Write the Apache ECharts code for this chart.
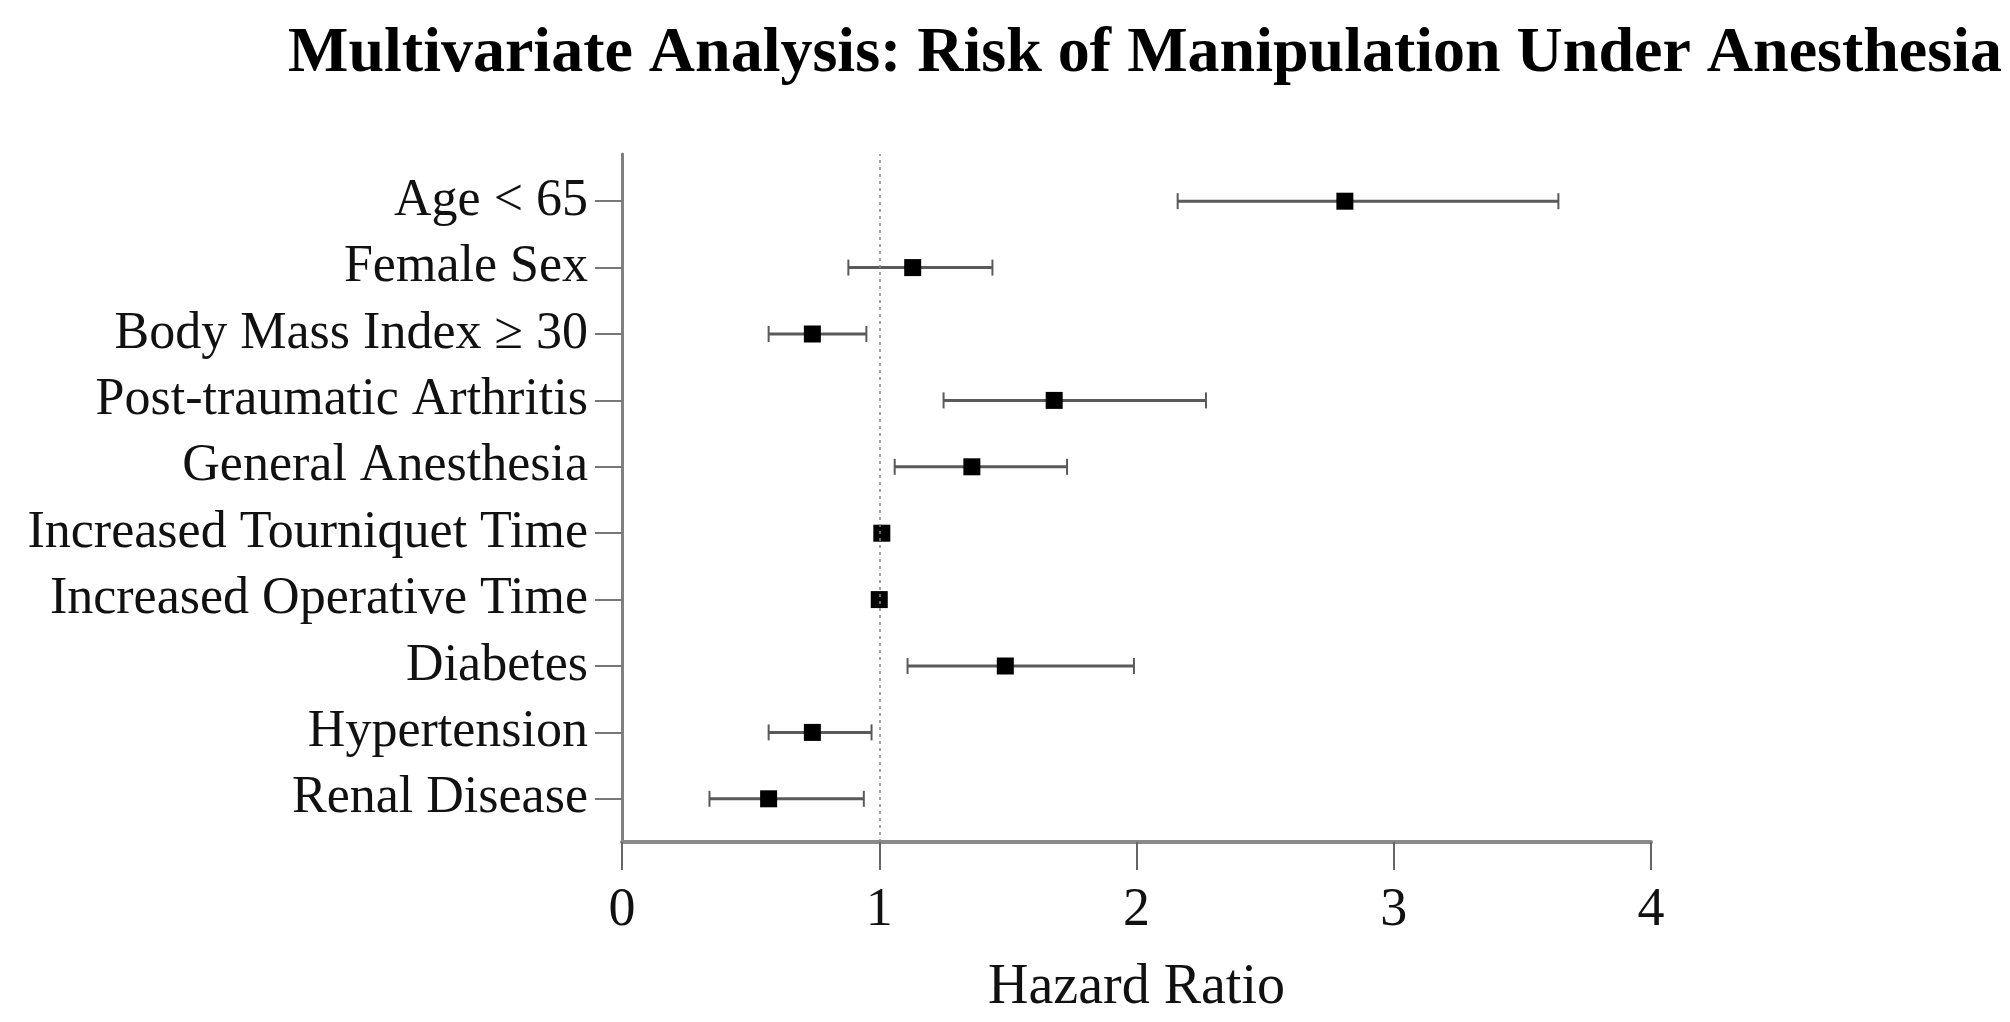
<!DOCTYPE html>
<html>
<head>
<meta charset="utf-8">
<script src="https://cdn.jsdelivr.net/npm/echarts@6/dist/echarts.min.js"></script>
<style>
html,body{margin:0;padding:0;background:#fff;}
#chart{width:2010px;height:1022px;}
</style>
</head>
<body>
<div id="chart"></div>
<script>
const titleText = 'Multivariate Analysis: Risk of Manipulation Under Anesthesia';
const categories = ['Age < 65', 'Female Sex', 'Body Mass Index \u2265 30', 'Post-traumatic Arthritis', 'General Anesthesia', 'Increased Tourniquet Time', 'Increased Operative Time', 'Diabetes', 'Hypertension', 'Renal Disease'];
const hazardRatio = [2.81, 1.13, 0.74, 1.68, 1.36, 1.01, 1.00, 1.49, 0.74, 0.57];
const ciLower = [2.16, 0.88, 0.57, 1.25, 1.06, 1.00, 0.99, 1.11, 0.57, 0.34];
const ciUpper = [3.64, 1.44, 0.95, 2.27, 1.73, 1.02, 1.01, 1.99, 0.97, 0.94];
const xTicks = [0, 1, 2, 3, 4];
const referenceLine = 1;
const xAxisName = 'Hazard Ratio';

const serif = '"Liberation Serif", "Times New Roman", serif';
const chart = echarts.init(document.getElementById('chart'));

const errData = categories.map((c, i) => [ciLower[i], ciUpper[i], i]);
const pointData = categories.map((c, i) => [hazardRatio[i], i]);

const option = {
  backgroundColor: '#fff',
  animation: false,
  title: {
    text: titleText,
    left: 1140,
    top: 17,
    textAlign: 'center',
    textStyle: { fontFamily: serif, fontWeight: 'bold', fontSize: 64, color: '#000' }
  },
  grid: [
    { left: 622, width: 1029, top: 154, height: 688 },
    { left: 622, width: 1029, top: 168, height: 664 }
  ],
  xAxis: [
    {
      gridIndex: 0, type: 'value', min: xTicks[0], max: xTicks[xTicks.length - 1], interval: 1,
      name: xAxisName, nameLocation: 'middle', nameGap: 118,
      nameTextStyle: { fontFamily: serif, fontSize: 56, color: '#111' },
      axisLine: { show: true, lineStyle: { color: '#8a8a8a', width: 4 } },
      axisTick: { show: true, length: 28, lineStyle: { color: '#666', width: 2 } },
      axisLabel: { fontFamily: serif, fontSize: 54, color: '#111', margin: 42 },
      splitLine: { show: false }
    },
    {
      gridIndex: 1, type: 'value', min: xTicks[0], max: xTicks[xTicks.length - 1], interval: 1,
      show: false
    }
  ],
  yAxis: [
    {
      gridIndex: 0, type: 'value', min: 0, max: 1,
      axisLine: { show: true, lineStyle: { color: '#808080', width: 3 } },
      axisTick: { show: false }, axisLabel: { show: false }, splitLine: { show: false }
    },
    {
      gridIndex: 1, type: 'category', data: categories, inverse: true,
      axisLine: { show: false },
      axisTick: { show: true, alignWithLabel: true, interval: 0, length: 27, lineStyle: { color: '#777', width: 2 } },
      axisLabel: { interval: 0, fontFamily: serif, fontSize: 52, color: '#111', margin: 34 },
      splitLine: { show: false }
    }
  ],
  series: [
    {
      type: 'line', xAxisIndex: 0, yAxisIndex: 0, data: [], silent: true,
      markLine: {
        symbol: 'none', silent: true, label: { show: false },
        lineStyle: { type: [3, 4], color: '#888', width: 1.5 },
        data: [{ xAxis: referenceLine }]
      }
    },
    {
      type: 'custom', xAxisIndex: 1, yAxisIndex: 1, data: errData,
      encode: { x: [0, 1], y: 2 },
      renderItem: function (params, api) {
        const p1 = api.coord([api.value(0), api.value(2)]);
        const p2 = api.coord([api.value(1), api.value(2)]);
        const h = 8;
        const style = { stroke: '#5a5a5a', lineWidth: 3 };
        const capStyle = { stroke: '#5a5a5a', lineWidth: 2 };
        return {
          type: 'group',
          children: [
            { type: 'line', shape: { x1: p1[0], y1: p1[1], x2: p2[0], y2: p2[1] }, style: style },
            { type: 'line', shape: { x1: p1[0], y1: p1[1] - h, x2: p1[0], y2: p1[1] + h }, style: capStyle },
            { type: 'line', shape: { x1: p2[0], y1: p2[1] - h, x2: p2[0], y2: p2[1] + h }, style: capStyle }
          ]
        };
      },
      z: 2
    },
    {
      type: 'scatter', xAxisIndex: 1, yAxisIndex: 1, data: pointData,
      symbol: 'rect', symbolSize: 17,
      itemStyle: { color: '#000', opacity: 1 },
      z: 3
    }
  ]
};
chart.setOption(option);
</script>
</body>
</html>
